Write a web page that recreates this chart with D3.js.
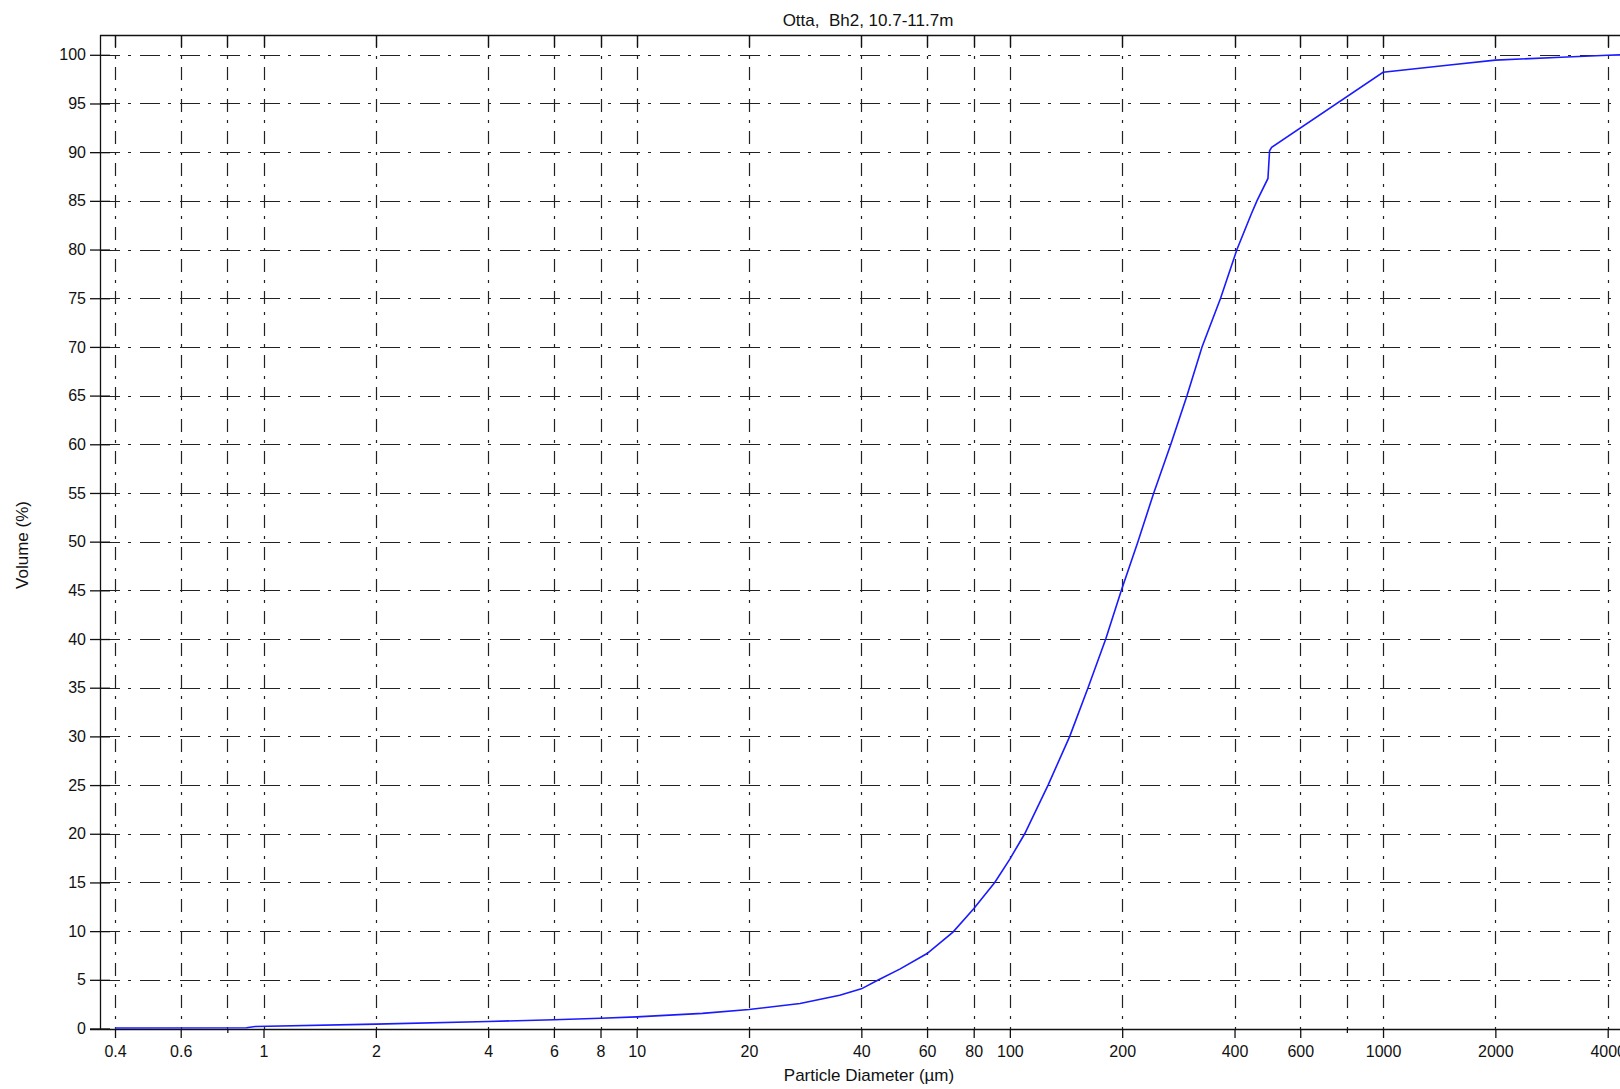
<!DOCTYPE html>
<html>
<head>
<meta charset="utf-8">
<script src="https://cdn.jsdelivr.net/npm/d3@7"></script>
<style>
    html, body { margin: 0; padding: 0; background: #fff; }
    svg { display: block; font-family: Arial, 'Liberation Sans', sans-serif; }
</style>
</head>
<body>
<div id="chart"></div>
<script>
// cumulative volume curve
var diameters = [0.4, 0.9, 0.95, 2, 4, 6, 8, 10, 15, 20, 27.4, 35, 40, 44.5, 50.7, 60, 70.4, 80, 91.1,
    100, 109.6, 126.6, 144.7, 162, 180.7, 199, 220.4, 243, 270, 298.4, 327.3, 367, 406, 443.6,
    459.3, 491.6, 496.6, 503, 1000, 1508, 2000, 3000, 4000, 4400];
var volumes = [0.05, 0.08, 0.2, 0.45, 0.72, 0.9, 1.05, 1.19, 1.55, 1.95, 2.57, 3.42, 4.07, 5.0, 6.1, 7.7, 9.9, 12.3, 15.0,
    17.4, 20.0, 25.0, 30.0, 35.0, 40.0, 45.0, 50.0, 55.0, 60.0, 65.0, 70.0, 75.0, 80.0, 83.65,
    85.0, 87.3, 90.15, 90.5, 98.2, 98.95, 99.45, 99.75, 99.95, 100];

var xTicks = [0.4, 0.6, 0.8, 1, 2, 4, 6, 8, 10, 20, 40, 60, 80, 100, 200, 400, 600, 800, 1000, 2000, 4000];
var xTickLabels = ['0.4', '0.6', '', '1', '2', '4', '6', '8', '10', '20', '40', '60', '80', '100', '200', '400', '600', '', '1000', '2000', '4000'];
var yTicks = [0, 5, 10, 15, 20, 25, 30, 35, 40, 45, 50, 55, 60, 65, 70, 75, 80, 85, 90, 95, 100];

(function() {
    var W = 1620, H = 1089;
    // plot frame (right side runs past the window edge)
    var pLeft = 100, pTop = 35, pRight = 1636, pBottom = 1029;
    var ink = '#111';

    var svg = d3.select('#chart').append('svg').attr('width', W).attr('height', H);

    var x = d3.scaleLog().domain([0.4, 4000]).range([115, 1607.7]);
    var y = d3.scaleLinear().domain([0, 100]).range([1028.5, 54.8]);
    var px = function(d) { return Math.round(x(d)) + 0.5; };
    var py = function(d) { return Math.round(y(d)) + 0.5; };

    // grid, dash-dot
    var grid = svg.append('g').attr('stroke', '#222').attr('stroke-width', 1.2).attr('fill', 'none');
    grid.selectAll('line.v').data(xTicks).enter().append('line')
        .attr('class', 'v')
        .attr('x1', px).attr('x2', px)
        .attr('y1', pTop).attr('y2', pBottom)
        .attr('stroke-dasharray', '13,8,3,8');
    grid.selectAll('line.h').data(yTicks.slice(1)).enter().append('line')
        .attr('class', 'h')
        .attr('y1', py).attr('y2', py)
        .attr('x1', pLeft).attr('x2', pRight)
        .attr('stroke-dasharray', '20,8,3,9');

    // bottom axis
    var xAxis = d3.axisBottom(x)
        .tickValues(xTicks)
        .tickFormat(function(d, i) { return xTickLabels[i]; })
        .tickSize(9)
        .tickSizeOuter(0)
        .tickPadding(8);
    var gx = svg.append('g').attr('transform', 'translate(0,' + pBottom + ')').call(xAxis);
    gx.select('.domain').attr('d', 'M' + (pLeft - 10) + ',0.5H' + pRight);
    gx.selectAll('.tick line').attr('y2', function(d, i) { return xTickLabels[i] ? 9 : 4; });

    // left axis, ticks cross the spine
    var yAxis = d3.axisLeft(y)
        .tickValues(yTicks)
        .tickSize(10)
        .tickSizeOuter(0)
        .tickPadding(4);
    var gy = svg.append('g').attr('transform', 'translate(' + pLeft + ',0)').call(yAxis);
    gy.select('.domain').attr('d', 'M0.5,' + pTop + 'V' + pBottom);
    gy.selectAll('.tick line').attr('x1', 10).attr('x2', -10);

    svg.selectAll('.tick text').attr('font-size', 16).attr('fill', ink)
        .attr('font-family', "Arial, 'Liberation Sans', sans-serif");
    svg.selectAll('.tick line, .domain').attr('stroke', ink).attr('stroke-width', 1.3);

    // top frame line with inward ticks
    svg.append('line').attr('x1', pLeft).attr('x2', pRight).attr('y1', pTop + 0.5).attr('y2', pTop + 0.5)
        .attr('stroke', ink).attr('stroke-width', 1.3);
    svg.append('g').selectAll('line').data(xTicks).enter().append('line')
        .attr('x1', px).attr('x2', px)
        .attr('y1', pTop).attr('y2', pTop + 12)
        .attr('stroke', ink).attr('stroke-width', 1.3);

    // curve
    var line = d3.line()
        .x(function(d, i) { return x(diameters[i]); })
        .y(function(d) { return y(d); });
    svg.append('defs').append('clipPath').attr('id', 'clip')
        .append('rect').attr('x', pLeft).attr('y', pTop).attr('width', pRight - pLeft).attr('height', pBottom - pTop);
    svg.append('path')
        .datum(volumes)
        .attr('clip-path', 'url(#clip)')
        .attr('d', line)
        .attr('fill', 'none')
        .attr('stroke', '#1a1aff')
        .attr('stroke-width', 1.6);

    // titles
    svg.append('text').attr('x', 868).attr('y', 26).attr('text-anchor', 'middle')
        .style('white-space', 'pre')
        .attr('font-size', 17).attr('fill', ink).text('Otta,  Bh2, 10.7-11.7m');
    svg.append('text').attr('x', 869).attr('y', 1081).attr('text-anchor', 'middle')
        .attr('font-size', 17).attr('fill', ink).text('Particle Diameter (µm)');
    svg.append('text').attr('transform', 'translate(28,545) rotate(-90)').attr('text-anchor', 'middle')
        .attr('font-size', 17).attr('fill', ink).text('Volume (%)');
})();
</script>
</body>
</html>
